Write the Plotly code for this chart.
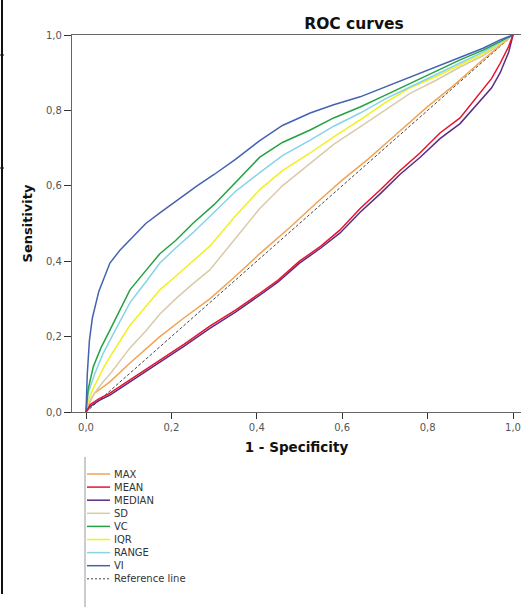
import plotly.graph_objects as go

# ---- data ----
names = ["MAX", "MEAN", "MEDIAN", "SD", "VC", "IQR", "RANGE", "VI"]
colors = ["#F2A352", "#E5132E", "#5B2C83", "#D9CBA9", "#23A243", "#F2F01E", "#86D3EA", "#4562B2"]

max_x = [0, 0.01, 0.02, 0.056, 0.103, 0.173, 0.23, 0.29, 0.35, 0.407, 0.478, 0.54, 0.6, 0.66, 0.72, 0.8, 0.86, 0.93, 1.0]
max_y = [0, 0.03, 0.05, 0.08, 0.13, 0.2, 0.25, 0.3, 0.36, 0.42, 0.49, 0.555, 0.615, 0.67, 0.73, 0.81, 0.865, 0.935, 1.0]

mean_x = [0, 0.01, 0.03, 0.056, 0.103, 0.173, 0.23, 0.29, 0.35, 0.407, 0.45, 0.5, 0.55, 0.595, 0.642, 0.69, 0.735, 0.782, 0.829, 0.876, 0.923, 0.95, 0.97, 0.99, 1.0]
mean_y = [0, 0.02, 0.035, 0.05, 0.085, 0.138, 0.18, 0.228, 0.27, 0.315, 0.35, 0.4, 0.44, 0.483, 0.54, 0.59, 0.64, 0.687, 0.74, 0.78, 0.845, 0.885, 0.925, 0.97, 1.0]

median_x = [0, 0.01, 0.03, 0.056, 0.103, 0.173, 0.23, 0.29, 0.35, 0.407, 0.45, 0.5, 0.55, 0.595, 0.642, 0.69, 0.735, 0.782, 0.829, 0.876, 0.923, 0.95, 0.97, 0.99, 1.0]
median_y = [0, 0.015, 0.03, 0.045, 0.08, 0.132, 0.175, 0.222, 0.265, 0.31, 0.345, 0.395, 0.435, 0.475, 0.53, 0.58, 0.63, 0.675, 0.725, 0.765, 0.825, 0.86, 0.9, 0.955, 1.0]

sd_x = [0, 0.01, 0.02, 0.04, 0.056, 0.08, 0.103, 0.14, 0.173, 0.21, 0.25, 0.29, 0.35, 0.407, 0.46, 0.525, 0.58, 0.642, 0.7, 0.759, 0.82, 0.876, 0.93, 1.0]
sd_y = [0, 0.03, 0.05, 0.08, 0.1, 0.135, 0.17, 0.215, 0.26, 0.3, 0.34, 0.377, 0.46, 0.54, 0.6, 0.66, 0.71, 0.756, 0.8, 0.845, 0.88, 0.915, 0.945, 1.0]

vc_x = [0, 0.005, 0.017, 0.035, 0.056, 0.08, 0.103, 0.14, 0.173, 0.21, 0.25, 0.3, 0.35, 0.407, 0.46, 0.525, 0.58, 0.642, 0.7, 0.759, 0.82, 0.876, 0.93, 1.0]
vc_y = [0, 0.06, 0.12, 0.17, 0.217, 0.27, 0.324, 0.375, 0.42, 0.455, 0.5, 0.55, 0.61, 0.676, 0.715, 0.748, 0.78, 0.809, 0.84, 0.872, 0.905, 0.934, 0.96, 1.0]

iqr_x = [0, 0.005, 0.02, 0.04, 0.056, 0.08, 0.103, 0.14, 0.173, 0.21, 0.25, 0.29, 0.35, 0.407, 0.46, 0.525, 0.58, 0.642, 0.7, 0.759, 0.82, 0.876, 0.93, 1.0]
iqr_y = [0, 0.03, 0.07, 0.115, 0.146, 0.19, 0.23, 0.28, 0.324, 0.36, 0.4, 0.44, 0.52, 0.59, 0.64, 0.687, 0.73, 0.775, 0.82, 0.86, 0.89, 0.92, 0.95, 1.0]

range_x = [0, 0.005, 0.02, 0.04, 0.056, 0.08, 0.103, 0.14, 0.173, 0.21, 0.25, 0.3, 0.35, 0.407, 0.46, 0.525, 0.58, 0.642, 0.7, 0.759, 0.82, 0.876, 0.93, 1.0]
range_y = [0, 0.05, 0.1, 0.155, 0.19, 0.24, 0.29, 0.345, 0.395, 0.435, 0.475, 0.53, 0.585, 0.635, 0.68, 0.721, 0.758, 0.793, 0.83, 0.862, 0.895, 0.925, 0.955, 1.0]

vi_x = [0, 0.003, 0.008, 0.015, 0.03, 0.056, 0.08, 0.103, 0.14, 0.173, 0.213, 0.26, 0.3, 0.35, 0.407, 0.46, 0.525, 0.58, 0.642, 0.7, 0.759, 0.82, 0.876, 0.93, 0.97, 1.0]
vi_y = [0, 0.1, 0.19, 0.25, 0.32, 0.395, 0.43, 0.456, 0.5, 0.528, 0.562, 0.6, 0.63, 0.67, 0.72, 0.76, 0.793, 0.815, 0.836, 0.862, 0.889, 0.915, 0.942, 0.965, 0.987, 1.0]

ref_x = [0, 1]
ref_y = [0, 1]

tick_vals = [0.0, 0.2, 0.4, 0.6, 0.8, 1.0]
tick_text = ["0,0", "0,2", "0,4", "0,6", "0,8", "1,0"]

series_x = [max_x, mean_x, median_x, sd_x, vc_x, iqr_x, range_x, vi_x]
series_y = [max_y, mean_y, median_y, sd_y, vc_y, iqr_y, range_y, vi_y]

# ---- layout geometry (pixels) ----
W, H = 521, 609
L, T = 72, 35
PW, PH = 449, 377

def px(x):
    return (x - L) / PW

def py(y):
    return (T + PH - y) / PH

FONT = "DejaVu Sans"

fig = go.Figure()
fig.add_trace(go.Scatter(x=ref_x, y=ref_y, mode="lines", name="Reference line",
                         line=dict(color="#444444", width=1, dash="3px,2px"), showlegend=False))
draw_order = [0, 3, 5, 6, 4, 7, 2, 1]
for i in draw_order:
    fig.add_trace(go.Scatter(x=series_x[i], y=series_y[i], mode="lines", name=names[i],
                             line=dict(color=colors[i], width=1.5), showlegend=False))

shapes = []
annotations = []
# manual legend
leg_names = names + ["Reference line"]
leg_colors = colors + ["#444444"]
for k, (nm, c) in enumerate(zip(leg_names, leg_colors)):
    yy = 474 + 13.1 * k
    shapes.append(dict(type="line", xref="paper", yref="paper",
                       x0=px(87), x1=px(110), y0=py(yy), y1=py(yy),
                       line=dict(color=c, width=1.5 if k < 8 else 1,
                                 dash="solid" if k < 8 else "2px,2px")))
    annotations.append(dict(xref="paper", yref="paper", x=px(112), y=py(yy),
                            xanchor="left", yanchor="middle", text=nm, showarrow=False,
                            font=dict(family=FONT, size=10, color="#333333")))
# legend box left border
shapes.append(dict(type="line", xref="paper", yref="paper", x0=px(85), x1=px(85),
                   y0=py(457), y1=py(607), line=dict(color="#999999", width=1)))
# outer left frame line with small ticks
shapes.append(dict(type="line", xref="paper", yref="paper", x0=px(2), x1=px(2),
                   y0=py(0), y1=py(594), line=dict(color="#111111", width=2)))
for yy in (55, 168):
    shapes.append(dict(type="line", xref="paper", yref="paper", x0=px(0), x1=px(4),
                       y0=py(yy), y1=py(yy), line=dict(color="#111111", width=1)))

fig.update_layout(
    width=W, height=H,
    margin=dict(l=L, r=W - L - PW, t=T, b=H - T - PH, pad=0, autoexpand=False),
    paper_bgcolor="white", plot_bgcolor="white",
    showlegend=False,
    title=dict(text="<b>ROC curves</b>", x=px(354), xref="paper", xanchor="center",
               y=1 - 24 / H, yref="container", yanchor="middle",
               font=dict(family=FONT, size=15.5, color="#111111")),
    shapes=shapes, annotations=annotations,
)
fig.update_xaxes(range=[(L - 86) / 427, (L + PW - 86) / 427], tickvals=tick_vals, ticktext=tick_text,
                 automargin=False,
                 showgrid=False, zeroline=False, showline=True, linecolor="#666666", linewidth=1.2,
                 mirror=True, ticks="outside", ticklen=6, tickcolor="#333333",
                 tickfont=dict(family=FONT, size=10, color="#555555"),
                 title=dict(text="<b>1 - Specificity</b>", standoff=10,
                            font=dict(family=FONT, size=13.5, color="#111111")))
fig.update_yaxes(range=[0, 1], tickvals=tick_vals, ticktext=tick_text,
                 automargin=False,
                 showgrid=False, zeroline=False, showline=True, linecolor="#666666", linewidth=1.2,
                 ticks="outside", ticklen=7, tickcolor="#333333",
                 tickfont=dict(family=FONT, size=10, color="#555555"),
                 title=dict(text="<b>Sensitivity</b>", standoff=10,
                            font=dict(family=FONT, size=13, color="#111111")))

fig.write_html("out.html", config={"displayModeBar": False},
               post_script="document.body.style.margin='0px';document.body.style.padding='0px';")
